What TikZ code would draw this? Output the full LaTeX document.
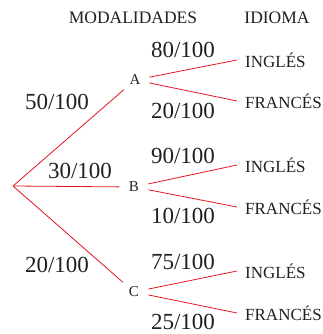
\documentclass[tikz,border=0pt]{standalone}
\usepackage{fontspec}
\setmainfont{Liberation Serif}
\usepackage{xcolor}
\usepackage{tikz}
\usetikzlibrary{positioning}
\definecolor{branchred}{RGB}{228, 20, 35}
\definecolor{textgray}{RGB}{35, 31, 32}
\tikzset{
 header/.style={
 text=textgray,
 font=\fontsize{17.5}{19}\selectfont,
 inner sep=0pt
 },
 mode/.style={
 circle,
 minimum size=29pt,
 inner sep=0pt,
 text=textgray,
 font=\fontsize{15}{17}\selectfont
 },
 leaf/.style={
 anchor=west,
 inner xsep=8pt,
 inner ysep=2pt,
 text=textgray,
 font=\fontsize{17}{19}\selectfont
 },
 prob/.style={
 text=textgray,
 font=\fontsize{23}{25}\selectfont,
 inner sep=0pt
 },
 branch/.style={draw=branchred, line width=0.8pt}
}

\begin{document}
\begin{tikzpicture}[x=1pt, y=1pt]
 \useasboundingbox (0,0) rectangle (323,334);

 % headers
 \node[header] (hmod) at (133,316) {MODALIDADES};
 \node[header] (hidi) at (277,316) {IDIOMA};

 % tree
 \coordinate (root) at (13,148);
 \node[mode] (A) at (135,254) {A};
 \node[mode] (B) at (134,147) {B};
 \node[mode] (C) at (134,42) {C};

 \node[leaf] (Aing) at (237,274) {INGLÉS};
 \node[leaf] (Afra) at (237,233) {FRANCÉS};
 \node[leaf] (Bing) at (237,169) {INGLÉS};
 \node[leaf] (Bfra) at (237,127) {FRANCÉS};
 \node[leaf] (Cing) at (237,63) {INGLÉS};
 \node[leaf] (Cfra) at (237,21) {FRANCÉS};

 \draw[branch] (root) -- (A);
 \draw[branch] (root) -- (B);
 \draw[branch] (root) -- (C);
 \draw[branch] (A) -- (Aing.west);
 \draw[branch] (A) -- (Afra.west);
 \draw[branch] (B) -- (Bing.west);
 \draw[branch] (B) -- (Bfra.west);
 \draw[branch] (C) -- (Cing.west);
 \draw[branch] (C) -- (Cfra.west);

 % probabilities
 \node[prob] (pA) at (57,232) {50/100};
 \node[prob] (pB) at (80,163) {30/100};
 \node[prob] (pC) at (57,69) {20/100};
 \node[prob] (pAi) at (183,284) {80/100};
 \node[prob] (pAf) at (183,223) {20/100};
 \node[prob] (pBi) at (183,178) {90/100};
 \node[prob] (pBf) at (183,118) {10/100};
 \node[prob] (pCi) at (183,72) {75/100};
 \node[prob] (pCf) at (183,12) {25/100};
\end{tikzpicture}
\end{document}
